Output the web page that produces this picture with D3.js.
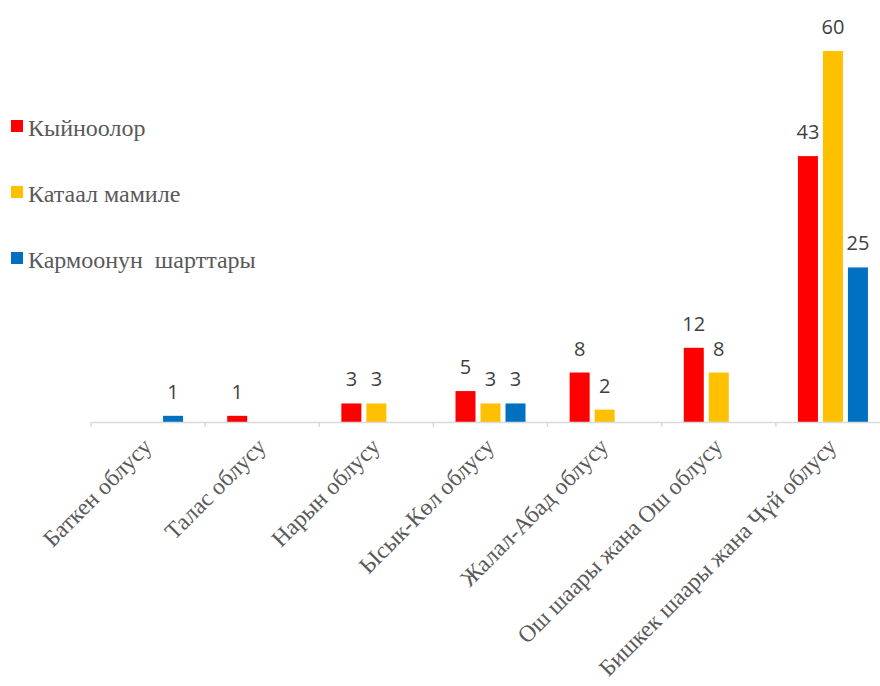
<!DOCTYPE html>
<html>
<head>
<meta charset="utf-8">
<script src="https://cdn.jsdelivr.net/npm/d3@7"></script>
<style>
  body { margin: 0; background: #fff; }
  svg { display: block; }
</style>
</head>
<body>
<div id="chart"></div>
<script>
const regions = ["Баткен облусу", "Талас облусу", "Нарын облусу", "Ысык-Көл облусу",
    "Жалал-Абад облусу", "Ош шаары жана Ош облусу", "Бишкек шаары жана Чүй облусу"]
const seriesNames = ["Кыйноолор", "Катаал мамиле", "Кармоонун  шарттары"]
const seriesColors = ["#ff0000", "#ffc000", "#0070c0"]
const torture = [null, 1, 3, 5, 8, 12, 43]
const cruel = [null, null, 3, 3, 2, 8, 60]
const detention = [1, null, null, 3, null, null, 25]

const width = 880, height = 686
const baseline = 422

const svg = d3.select("#chart").append("svg")
    .attr("width", width)
    .attr("height", height)

const x0 = d3.scaleBand().domain(regions).range([91, 890])
const x1 = d3.scaleBand().domain(seriesNames).range([0, 70]).paddingInner(0.2)
const y = d3.scaleLinear().domain([0, 60]).range([baseline, 51])

const allSeries = [torture, cruel, detention]

// bars + labels
allSeries.forEach((vals, si) => {
    const pts = regions.map((r, i) => ({ r, v: vals[i] })).filter(d => d.v != null)
    const g = svg.append("g")
    const off = r => x0(r) + x0.bandwidth() / 2 - 35 + x1(seriesNames[si])
    g.selectAll("rect").data(pts).join("rect")
        .attr("x", d => off(d.r))
        .attr("y", d => y(d.v))
        .attr("width", x1.bandwidth())
        .attr("height", d => baseline - y(d.v))
        .attr("fill", seriesColors[si])
    g.selectAll("text").data(pts).join("text")
        .attr("x", d => off(d.r) + x1.bandwidth() / 2)
        .attr("y", d => y(d.v) - 17)
        .attr("text-anchor", "middle")
        .attr("font-family", "Open Sans, Liberation Sans, sans-serif")
        .attr("font-size", 20)
        .attr("fill", "#404040")
        .text(d => d.v)
})

// x axis
const ax = svg.append("g")
    .attr("transform", `translate(0,${baseline})`)
    .call(d3.axisBottom(x0).tickSize(0).tickSizeOuter(0))
ax.select(".domain").attr("stroke", "#d9d9d9").attr("stroke-width", 1.5)
ax.selectAll(".tick text")
    .attr("font-family", "Liberation Serif, Times New Roman, serif")
    .attr("font-size", 23.5)
    .attr("fill", "#595959")
    .attr("text-anchor", "end")
    .attr("dy", 0)
    .attr("y", 0)
    .attr("transform", "translate(5,26) rotate(-45)")

// tick marks on band boundaries
svg.append("g").selectAll("line")
    .data(regions)
    .join("line")
    .attr("x1", d => x0(d)).attr("x2", d => x0(d))
    .attr("y1", baseline).attr("y2", baseline + 5)
    .attr("stroke", "#d9d9d9")
    .attr("stroke-width", 1.5)

// legend
const leg = svg.append("g")
seriesNames.forEach((name, i) => {
    const yy = 120 + i * 66
    leg.append("rect")
        .attr("x", 11).attr("y", yy)
        .attr("width", 12).attr("height", 12)
        .attr("fill", seriesColors[i])
    leg.append("text")
        .attr("x", 28).attr("y", yy + 16)
        .attr("font-family", "Liberation Serif, Times New Roman, serif")
        .attr("font-size", 24)
        .attr("fill", "#595959")
        .style("white-space", "pre")
        .text(name)
})
</script>
</body>
</html>
